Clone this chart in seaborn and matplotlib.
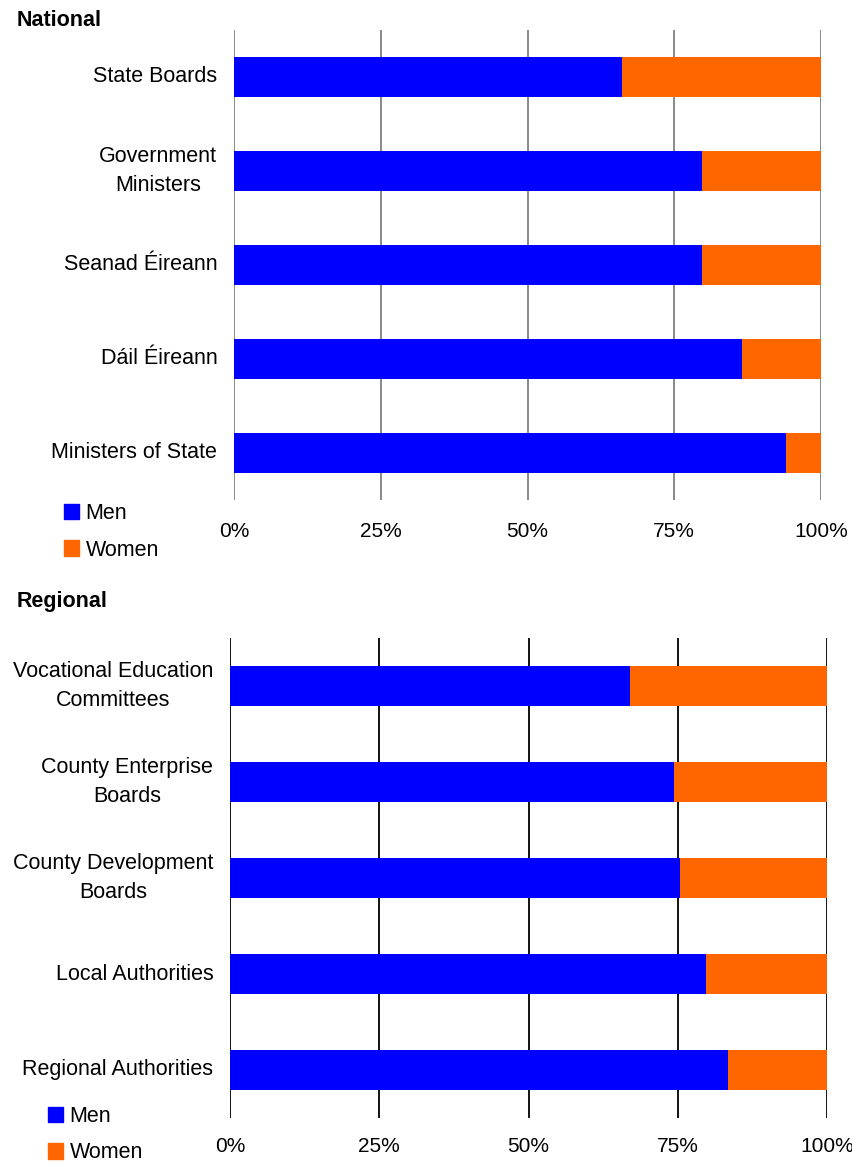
import pandas as pd
import matplotlib
matplotlib.use('Agg')
import matplotlib.pyplot as plt
from matplotlib.patches import Patch
import seaborn as sns

# --- Data (share of members, %) ---
NATIONAL_BODIES = ['State Boards', 'Government\nMinisters', 'Seanad Éireann',
                   'Dáil Éireann', 'Ministers of State']
NATIONAL_MEN = [66.1, 79.8, 79.8, 86.6, 94.1]
NATIONAL_WOMEN = [33.9, 20.2, 20.2, 13.4, 5.9]

REGIONAL_BODIES = ['Vocational Education\nCommittees', 'County Enterprise\nBoards',
                   'County Development\nBoards', 'Local Authorities', 'Regional Authorities']
REGIONAL_MEN = [67.0, 74.4, 75.4, 79.7, 83.4]
REGIONAL_WOMEN = [33.0, 25.6, 24.6, 20.3, 16.6]

TICKS = [0, 25, 50, 75, 100]
TICK_LABELS = ['0%', '25%', '50%', '75%', '100%']

MEN_COLOR = '#0000FF'
WOMEN_COLOR = '#FF6600'

sns.set_style('white')
plt.rcParams['font.family'] = ['Liberation Sans', 'DejaVu Sans']
plt.rcParams['text.color'] = 'black'
plt.rcParams['xtick.color'] = 'black'
plt.rcParams['ytick.color'] = 'black'

W, H = 852, 1163
fig = plt.figure(figsize=(W / 100, H / 100), dpi=100)


def draw_panel(rect, bodies, men, women, grid_color, xpad):
    df = pd.DataFrame({'body': bodies, 'men': men, 'women': women})
    df['total'] = df['men'] + df['women']
    ax = fig.add_axes(rect)
    # stacked bars: full bar in orange, men drawn over it in blue
    sns.barplot(data=df, x='total', y='body', orient='h', color=WOMEN_COLOR,
                width=0.42, saturation=1, linewidth=0, ax=ax, zorder=3)
    sns.barplot(data=df, x='men', y='body', orient='h', color=MEN_COLOR,
                width=0.42, saturation=1, linewidth=0, ax=ax, zorder=3)
    ax.set_xlim(0, 100)
    ax.set_ylim(len(bodies) - 0.5, -0.5)
    ax.set_xticks(TICKS)
    ax.set_xticklabels(TICK_LABELS, fontsize=15)
    for lbl in ax.get_yticklabels():
        lbl.set_multialignment('center')
        lbl.set_linespacing(1.45)
        lbl.set_fontsize(15.5)
        lbl.set_verticalalignment('center')
    ax.tick_params(axis='y', length=0, pad=12)
    ax.tick_params(axis='x', length=0, pad=xpad)
    ax.set_xlabel('')
    ax.set_ylabel('')
    for s in ax.spines.values():
        s.set_visible(False)
    for t in TICKS:
        ax.axvline(t, color=grid_color, lw=1.3, zorder=1)
    return ax


ax1 = draw_panel([234 / W, 1 - 500 / H, 587 / W, 470 / H],
                 NATIONAL_BODIES, NATIONAL_MEN, NATIONAL_WOMEN, '#808080', 16)
ax2 = draw_panel([230 / W, 1 - 1118 / H, 597 / W, 480 / H],
                 REGIONAL_BODIES, REGIONAL_MEN, REGIONAL_WOMEN, '#000000', 14)

fig.text(17 / W, 1 - 20 / H, 'National', fontsize=15.5, fontweight='bold', va='center')
fig.text(17 / W, 1 - 601 / H, 'Regional', fontsize=15.5, fontweight='bold', va='center')

handles = [Patch(color=MEN_COLOR, label='Men'), Patch(color=WOMEN_COLOR, label='Women')]
for x0, y0 in [(64, 503), (48, 1106)]:
    fig.legend(handles=handles, loc='upper left', bbox_to_anchor=(x0 / W, 1 - y0 / H),
               frameon=False, fontsize=15.5, handlelength=0.7, handleheight=0.7,
               handletextpad=0.3, labelspacing=0.72, borderpad=0, borderaxespad=0)

fig.savefig('out.png', dpi=100)
